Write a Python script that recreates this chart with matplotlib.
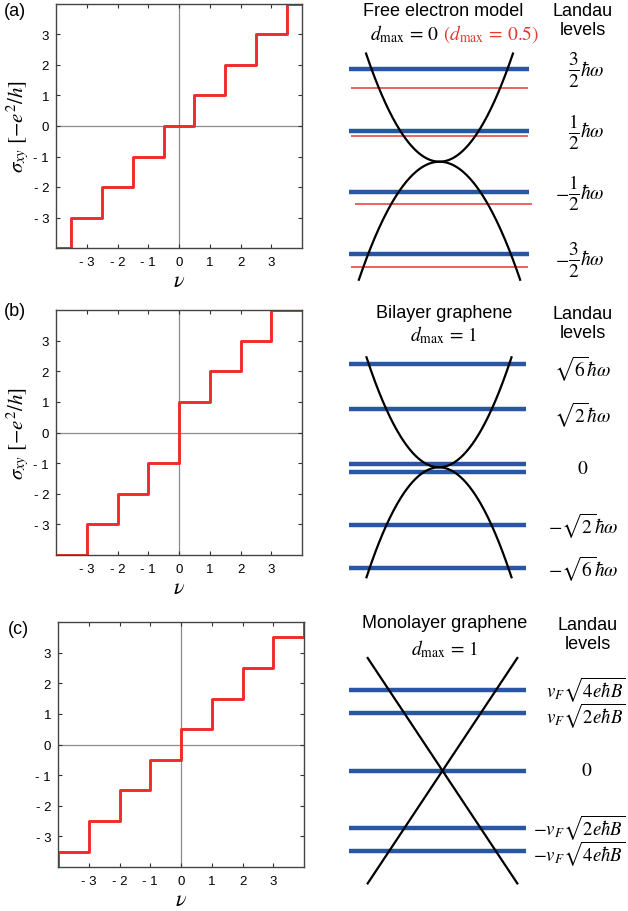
import numpy as np
import matplotlib
matplotlib.use("Agg")
import matplotlib.pyplot as plt
from matplotlib.transforms import blended_transform_factory

plt.rcParams['font.family'] = ['Liberation Sans', 'DejaVu Sans']
plt.rcParams['mathtext.fontset'] = 'stix'

# ---------------- data ----------------
nu_a = [-4, -3.5, -2.5, -1.5, -0.5, 0.5, 1.5, 2.5, 3.5, 4]
sigma_a = [-4, -3, -2, -1, 0, 1, 2, 3, 4, 4]

nu_b = [-4, -3, -2, -1, 0, 1, 2, 3, 4]
sigma_b = [-4, -3, -2, -1, 1, 2, 3, 4, 4]

nu_c = [-4, -4, -3, -2, -1, 0, 1, 2, 3, 4, 4]
sigma_c = [-4, -3.5, -2.5, -1.5, -0.5, 0.5, 1.5, 2.5, 3.5, 4, 4]

ticks = [-3, -2, -1, 0, 1, 2, 3]
tick_labels = ['- 3', '- 2', '- 1', '0', '1', '2', '3']

# Free electron levels (units of hbar*omega)
levels_a_blue = [1.5, 0.5, -0.5, -1.5]
levels_a_red = [1.2, 0.41, -0.69, -1.72]
label_sign_a = ['', '', '-', '-']
label_frac_a = [r'$\frac{3}{2}$', r'$\frac{1}{2}$', r'$\frac{1}{2}$', r'$\frac{3}{2}$']
label_unit_a = r'$\hbar\omega$'
label_pos_a = [1.5, 0.5, -0.5, -1.58]

# Bilayer levels
levels_b = [2.45, 1.38, 0.085, -0.10, -1.37, -2.39]
labels_b = [r'$\sqrt{6}\hbar\omega$', r'$\sqrt{2}\hbar\omega$', r'$0$',
            r'$-\sqrt{2}\hbar\omega$', r'$-\sqrt{6}\hbar\omega$']
label_pos_b = [2.33, 1.26, -0.04, -1.38, -2.39]

# Monolayer levels (units of sqrt(2 e hbar B) v_F)
levels_c = [1.41, 1.0, 0.0, -1.0, -1.40]
labels_c = [r'$v_F\sqrt{4e\hbar B}$', r'$v_F\sqrt{2e\hbar B}$', r'$0$',
            r'$-v_F\sqrt{2e\hbar B}$', r'$-v_F\sqrt{4e\hbar B}$']
label_pos_c = [1.43, 0.98, 0.0, -0.97, -1.42]

# band curvature / slopes and extents
curv_a_up, kmax_a_up = 1.69, 1.02
curv_a_dn, kmax_a_dn = 1.53, 1.12
curv_b, kmax_b = 2.57, 1.007
slope_c, kmax_c = 1.893, 1.039

# ---------------- figure ----------------
W, H = 628, 912
fig = plt.figure(figsize=(W / 100, H / 100), dpi=100)

RED = '#ef2b2b'
BLUE = '#2856a4'
THINRED = '#e53935'
TITLE_FS = 13
MATH_FS = 14


def box(l, t, r, b):
    return [l / W, 1 - b / H, (r - l) / W, (b - t) / H]


def fx(x):
    return x / W


def fy(y):
    return 1 - y / H


def step_axes(rect, nu, sig, ylabel=True):
    ax = fig.add_axes(rect)
    ax.axhline(0, color='#8a8a8a', lw=0.9, zorder=1)
    ax.axvline(0, color='#8a8a8a', lw=0.9, zorder=1)
    ax.step(nu, sig, where='post', color=RED, lw=2.1, zorder=2)
    ax.set_xlim(-4, 4)
    ax.set_ylim(-4, 4)
    ax.set_xticks(ticks)
    ax.set_xticklabels(tick_labels)
    ax.set_yticks(ticks)
    ax.set_yticklabels(tick_labels)
    ax.tick_params(direction='in', length=3, width=0.8, top=True, right=True,
                   labelsize=9.5, color='#333333')
    ax.tick_params(axis='x', pad=6)
    ax.tick_params(axis='y', pad=5)
    for s in ax.spines.values():
        s.set_color('#444444')
        s.set_linewidth(1.0)
    ax.set_xlabel(r'$\nu$', fontsize=16, labelpad=1)
    if ylabel:
        ax.set_ylabel(r'$\sigma_{xy}\ [-e^2/h]$', fontsize=15, labelpad=1)
    return ax


step_axes(box(56, 5, 302, 249), nu_a, sigma_a)
step_axes(box(56, 311, 302, 556), nu_b, sigma_b)
step_axes(box(58, 623, 304, 868), nu_c, sigma_c, ylabel=False)

fig.text(fx(4), fy(12), '(a)', fontsize=13, va='center', ha='left')
fig.text(fx(4), fy(312), '(b)', fontsize=13, va='center', ha='left')
fig.text(fx(8), fy(630), '(c)', fontsize=13, va='center', ha='left')

SX = 72.0


def schem_axes(L, T, R, B, cx, cy, sy):
    ax = fig.add_axes(box(L, T, R, B))
    ax.set_xlim((L - cx) / SX, (R - cx) / SX)
    ax.set_ylim((cy - B) / sy, (cy - T) / sy)
    ax.axis('off')
    return ax


# ---- (a) free electron ----
cxa = 439.5
axa = schem_axes(340, 40, 540, 290, cxa, 162.7, 61.5)
for e in levels_a_blue:
    axa.plot([(349 - cxa) / SX, (529 - cxa) / SX], [e, e], color=BLUE, lw=3.2,
             solid_capstyle='butt', zorder=1)
for i, e in enumerate(levels_a_red):
    x0, x1 = (351, 528) if i != 2 else (355, 532)
    axa.plot([(x0 - cxa) / SX, (x1 - cxa) / SX], [e, e], color=THINRED, lw=1.1,
             solid_capstyle='butt', zorder=1)
k = np.linspace(-kmax_a_up, kmax_a_up, 200)
axa.plot(k, curv_a_up * k ** 2, color='k', lw=1.6, zorder=3)
k = np.linspace(-kmax_a_dn, kmax_a_dn, 200)
axa.plot(k, -curv_a_dn * k ** 2, color='k', lw=1.6, zorder=3)
tra = blended_transform_factory(fig.transFigure, axa.transData)
for y, sg, fr in zip(label_pos_a, label_sign_a, label_frac_a):
    fig.text(fx(580), y, fr, transform=tra, ha='right', va='center', fontsize=20)
    fig.text(fx(580), y, label_unit_a, transform=tra, ha='left', va='center',
             fontsize=MATH_FS)
    if sg:
        fig.text(fx(569), y, r'$-$', transform=tra, ha='right', va='center',
                 fontsize=MATH_FS)

fig.text(fx(443), fy(12), 'Free electron model', ha='center', va='center', fontsize=TITLE_FS)
fig.text(fx(405), fy(34), r'$d_{\max}\,=\,0$', ha='center', va='center', fontsize=MATH_FS)
fig.text(fx(491), fy(34), r'$(d_{\max}\,=\,0.5)$', ha='center', va='center',
         fontsize=MATH_FS, color=THINRED)
fig.text(fx(583), fy(21), 'Landau\nlevels', ha='center', va='center', fontsize=TITLE_FS,
         linespacing=1.15)

# ---- (b) bilayer ----
cxb = 439.0
axb = schem_axes(340, 345, 540, 590, cxb, 468.3, 42.2)
for e in levels_b:
    axb.plot([(349 - cxb) / SX, (526 - cxb) / SX], [e, e], color=BLUE, lw=3.2,
             solid_capstyle='butt', zorder=1)
k = np.linspace(-kmax_b, kmax_b, 200)
axb.plot(k, curv_b * k ** 2, color='k', lw=1.6, zorder=3)
axb.plot(k, -curv_b * k ** 2, color='k', lw=1.6, zorder=3)
trb = blended_transform_factory(fig.transFigure, axb.transData)
for y, s in zip(label_pos_b, labels_b):
    fig.text(fx(583), y, s, transform=trb, ha='center', va='center', fontsize=MATH_FS)

fig.text(fx(444), fy(313), 'Bilayer graphene', ha='center', va='center', fontsize=TITLE_FS)
fig.text(fx(444), fy(335), r'$d_{\max}\,=\,1$', ha='center', va='center', fontsize=MATH_FS)
fig.text(fx(583), fy(324), 'Landau\nlevels', ha='center', va='center', fontsize=TITLE_FS,
         linespacing=1.15)

# ---- (c) monolayer ----
cxc = 442.5
axc = schem_axes(340, 650, 540, 895, cxc, 771.7, 57.3)
for e in levels_c:
    axc.plot([(349 - cxc) / SX, (526 - cxc) / SX], [e, e], color=BLUE, lw=3.2,
             solid_capstyle='butt', zorder=1)
k = np.linspace(-kmax_c, kmax_c, 50)
axc.plot(k, slope_c * k, color='k', lw=1.6, zorder=3)
axc.plot(k, -slope_c * k, color='k', lw=1.6, zorder=3)
trc = blended_transform_factory(fig.transFigure, axc.transData)
for y, s in zip(label_pos_c, labels_c):
    if s == r'$0$':
        fig.text(fx(587), y, s, transform=trc, ha='center', va='center', fontsize=MATH_FS)
    else:
        fig.text(fx(626), y, s, transform=trc, ha='right', va='center', fontsize=13.5)

fig.text(fx(445), fy(624), 'Monolayer graphene', ha='center', va='center', fontsize=TITLE_FS)
fig.text(fx(445), fy(649), r'$d_{\max}\,=\,1$', ha='center', va='center', fontsize=MATH_FS)
fig.text(fx(588), fy(635), 'Landau\nlevels', ha='center', va='center', fontsize=TITLE_FS,
         linespacing=1.15)

fig.savefig('out.png', dpi=100, facecolor='white')
